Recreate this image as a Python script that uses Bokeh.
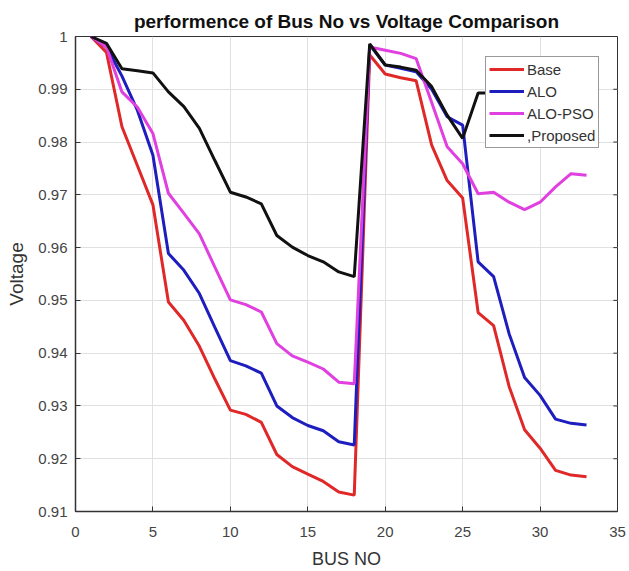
from bokeh.plotting import figure
from bokeh.models import FixedTicker, Legend, LegendItem, Range1d, CustomJSTickFormatter
from bokeh.embed import file_html
from bokeh.resources import INLINE

bus = list(range(1, 34))
base = [1.0, 0.997, 0.9829, 0.9755, 0.9681, 0.9497, 0.9462, 0.9413, 0.9351, 0.9292,
        0.9284, 0.9269, 0.9208, 0.9185, 0.9171, 0.9157, 0.9137, 0.9131, 0.9965, 0.9929,
        0.9922, 0.9916, 0.9794, 0.9727, 0.9694, 0.9477, 0.9452, 0.9337, 0.9255, 0.9220,
        0.9178, 0.9169, 0.9166]
alo = [1.0, 0.998, 0.9925, 0.9860, 0.9775, 0.9589, 0.9557, 0.9513, 0.9449, 0.9386,
       0.9376, 0.9362, 0.9300, 0.9278, 0.9263, 0.9253, 0.9232, 0.9226, 0.9984, 0.9946,
       0.9940, 0.9933, 0.9900, 0.9848, 0.9832, 0.9573, 0.9545, 0.9437, 0.9354, 0.9320,
       0.9275, 0.9267, 0.9264]
alo_pso = [1.0, 0.998, 0.9895, 0.9866, 0.9816, 0.9703, 0.9665, 0.9626, 0.9563, 0.9501,
           0.9492, 0.9478, 0.9418, 0.9395, 0.9383, 0.9370, 0.9345, 0.9342, 0.9980, 0.9974,
           0.9968, 0.9958, 0.9875, 0.9791, 0.9759, 0.9702, 0.9705, 0.9686, 0.9672, 0.9686,
           0.9715, 0.9740, 0.9737]
proposed_bus = list(range(1, 28))
proposed = [1.0, 0.9987, 0.9939, 0.9935, 0.9931, 0.9895, 0.9867, 0.9826, 0.9765, 0.9705,
            0.9696, 0.9683, 0.9623, 0.9601, 0.9585, 0.9573, 0.9554, 0.9545, 0.9986, 0.9946,
            0.9942, 0.9936, 0.9905, 0.9851, 0.9807, 0.9893, 0.9893]

x_ticks = [0, 5, 10, 15, 20, 25, 30, 35]
y_ticks = [0.91, 0.92, 0.93, 0.94, 0.95, 0.96, 0.97, 0.98, 0.99, 1.0]

FONT = "Liberation Sans"
TXT = "#333333"
X0, X1 = x_ticks[0], x_ticks[-1]
Y0, Y1 = y_ticks[0], y_ticks[-1]

p = figure(width=629, height=571, output_backend="svg", toolbar_location=None,
           x_range=Range1d(X0, X1), y_range=Range1d(Y0, Y1),
           title="performence of Bus No vs Voltage Comparison",
           min_border_left=75, min_border_right=12, min_border_top=36, min_border_bottom=60)
p.background_fill_color = "white"
p.border_fill_color = "white"
p.outline_line_color = "#333333"
p.outline_line_width = 1

p.title.align = "center"
p.title.text_font = FONT
p.title.text_font_size = "19px"
p.title.text_font_style = "bold"
p.title.text_color = "#111111"

p.xaxis.ticker = FixedTicker(ticks=x_ticks)
p.yaxis.ticker = FixedTicker(ticks=y_ticks)
p.yaxis.formatter = CustomJSTickFormatter(code="return tick >= 0.9999 ? '1' : tick.toFixed(2);")
for ax in (p.xaxis[0], p.yaxis[0]):
    ax.major_tick_in = 5
    ax.major_tick_out = 0
    ax.minor_tick_line_color = None
    ax.axis_line_color = "#333333"
    ax.axis_line_width = 1.5
    ax.major_tick_line_color = "#333333"
    ax.major_label_text_font = FONT
    ax.major_label_text_font_size = "15px"
    ax.major_label_text_color = "#444444"
    ax.axis_label_text_font = FONT
    ax.axis_label_text_font_style = "normal"
    ax.axis_label_text_color = TXT
p.xaxis.axis_label = "BUS NO"
p.yaxis.axis_label = "Voltage"
p.xaxis.axis_label_text_font_size = "18px"
p.yaxis.axis_label_text_font_size = "19px"
p.xaxis.major_label_standoff = 15
p.yaxis.major_label_standoff = 8
p.xaxis.axis_label_standoff = 9
p.yaxis.axis_label_standoff = 8

p.grid.grid_line_color = "#e0e0e0"
p.grid.grid_line_width = 1

# tick marks on the right side of the box (MATLAB "box on")
n = len(y_ticks)
p.segment(x0=[X1] * n, x1=[X1 - 0.27] * n, y0=y_ticks, y1=y_ticks,
          line_color="#333333", line_width=1)

LW = 3
r1 = p.line(bus, base, line_color="#e02828", line_width=LW)
r2 = p.line(bus, alo, line_color="#1e1ebe", line_width=LW)
r3 = p.line(bus, alo_pso, line_color="#e040e0", line_width=LW)
r4 = p.line(proposed_bus, proposed, line_color="#111111", line_width=LW)

legend = Legend(items=[LegendItem(label="Base", renderers=[r1]),
                       LegendItem(label="ALO", renderers=[r2]),
                       LegendItem(label="ALO-PSO", renderers=[r3]),
                       LegendItem(label=",Proposed", renderers=[r4])],
                location=(410, 363))
legend.border_line_color = "#333333"
legend.border_line_width = 1
legend.background_fill_alpha = 1
legend.label_text_font = FONT
legend.label_text_font_size = "15px"
legend.label_text_color = TXT
legend.glyph_width = 35
legend.glyph_height = 18
legend.label_height = 18
legend.spacing = 4
legend.padding = 3
legend.margin = 0
legend.label_standoff = 3
p.add_layout(legend)

open("out.html", "w").write(file_html(p, INLINE))
